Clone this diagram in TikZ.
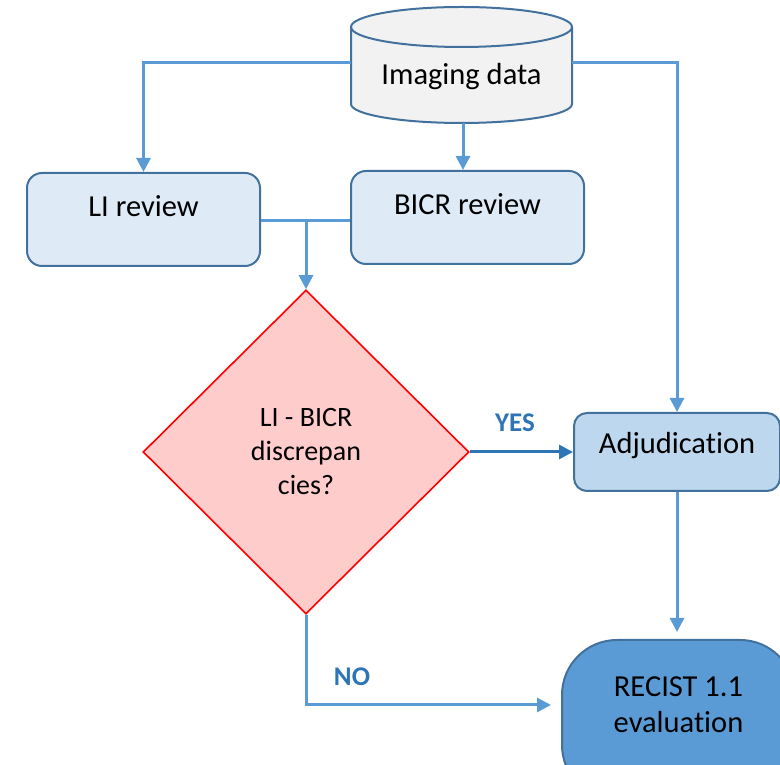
\documentclass[tikz,border=0pt]{standalone}
\usepackage{fontspec}
\setmainfont{Carlito}[Ligatures=NoCommon]
\usetikzlibrary{shapes.geometric,arrows.meta}
\definecolor{lineblue}{HTML}{5B9BD5}
\definecolor{darkblue}{HTML}{2E75B6}
\definecolor{edgeblue}{HTML}{41719C}
\definecolor{lightbox}{HTML}{DEEBF7}
\definecolor{midbox}{HTML}{BDD7EE}
\definecolor{cylfill}{HTML}{F2F2F2}
\definecolor{diafill}{HTML}{FFCCCC}
\begin{document}
\begin{tikzpicture}[x=1pt,y=1pt,
  mainfont/.style={font=\fontsize{30.5}{36}\selectfont},
  reviewbox/.style={draw=edgeblue,line width=2pt,fill=lightbox,rounded corners=15pt,
     minimum width=233pt,minimum height=93pt,inner sep=0pt,mainfont,text height=20pt,text depth=25pt},
  adjbox/.style={draw=edgeblue,line width=2pt,fill=midbox,rounded corners=13pt,
     minimum width=206pt,minimum height=78pt,inner sep=0pt,mainfont,text height=20pt,text depth=16pt},
  endbox/.style={draw=edgeblue,line width=2pt,fill=lineblue,rounded corners=55pt,
     minimum width=233pt,minimum height=160pt,inner sep=0pt,mainfont,align=center},
  decision/.style={diamond,draw=red,line width=1.6pt,fill=diafill,minimum width=326pt,
     minimum height=324pt,inner sep=0pt,align=center,font=\fontsize{28}{34}\selectfont},
  conn/.style={draw=lineblue,line width=3pt,-{Triangle[width=14pt,length=14pt]}},
  plainconn/.style={draw=lineblue,line width=3pt},
  yesconn/.style={draw=darkblue,line width=3pt,-{Triangle[width=14pt,length=14pt]}},
  lab/.style={text=darkblue,font=\fontsize{27}{32}\selectfont\bfseries}
]
\useasboundingbox (0,0) rectangle (780,765);
% cylinder
\draw[draw=edgeblue,line width=2pt,fill=cylfill]
  (351,738) -- (351,661) arc[start angle=180,end angle=360,x radius=110.5,y radius=19]
  -- (572,738) arc[start angle=0,end angle=180,x radius=110.5,y radius=20] -- cycle;
\draw[draw=edgeblue,line width=2pt]
  (351,738) arc[start angle=180,end angle=360,x radius=110.5,y radius=20];
\node[mainfont] (img) at (461.5,688) {Imaging data};
\coordinate (imgL) at (351,702);
\coordinate (imgR) at (572,702);
\coordinate (imgB) at (463,642);

\node[reviewbox] (li) at (143.5,545.5) {LI review};
\node[reviewbox] (bicr) at (467.5,547.5) {BICR review};
\node[decision] (dia) at (306,313) {LI - BICR\\discrepan\\cies?};
\node[adjbox] (adj) at (677,313) {Adjudication};
\node[endbox] (recist) at (678.5,45) {RECIST 1.1\\evaluation\\[-6pt]\mbox{}};
\coordinate (noend) at (551,60);

% connectors
\draw[conn] (imgL) -| (li.north);
\draw[conn] (imgR) -| (adj.north);
\draw[conn] (imgB) -- (imgB |- bicr.north);
\draw[plainconn] (li.east |- 0,544) -- (bicr.west |- 0,544);
\draw[conn] (dia.north |- 0,544) -- (dia.north);
\draw[yesconn] (dia.east) -- (adj.west);
\draw[conn,shorten >=7pt] (adj.south) -- (adj.south |- recist.north);
\draw[conn] (dia.south) |- (noend);

\node[lab] (yes) at (515,342) {YES};
\node[lab] (no) at (352,88) {NO};
\end{tikzpicture}
\end{document}
